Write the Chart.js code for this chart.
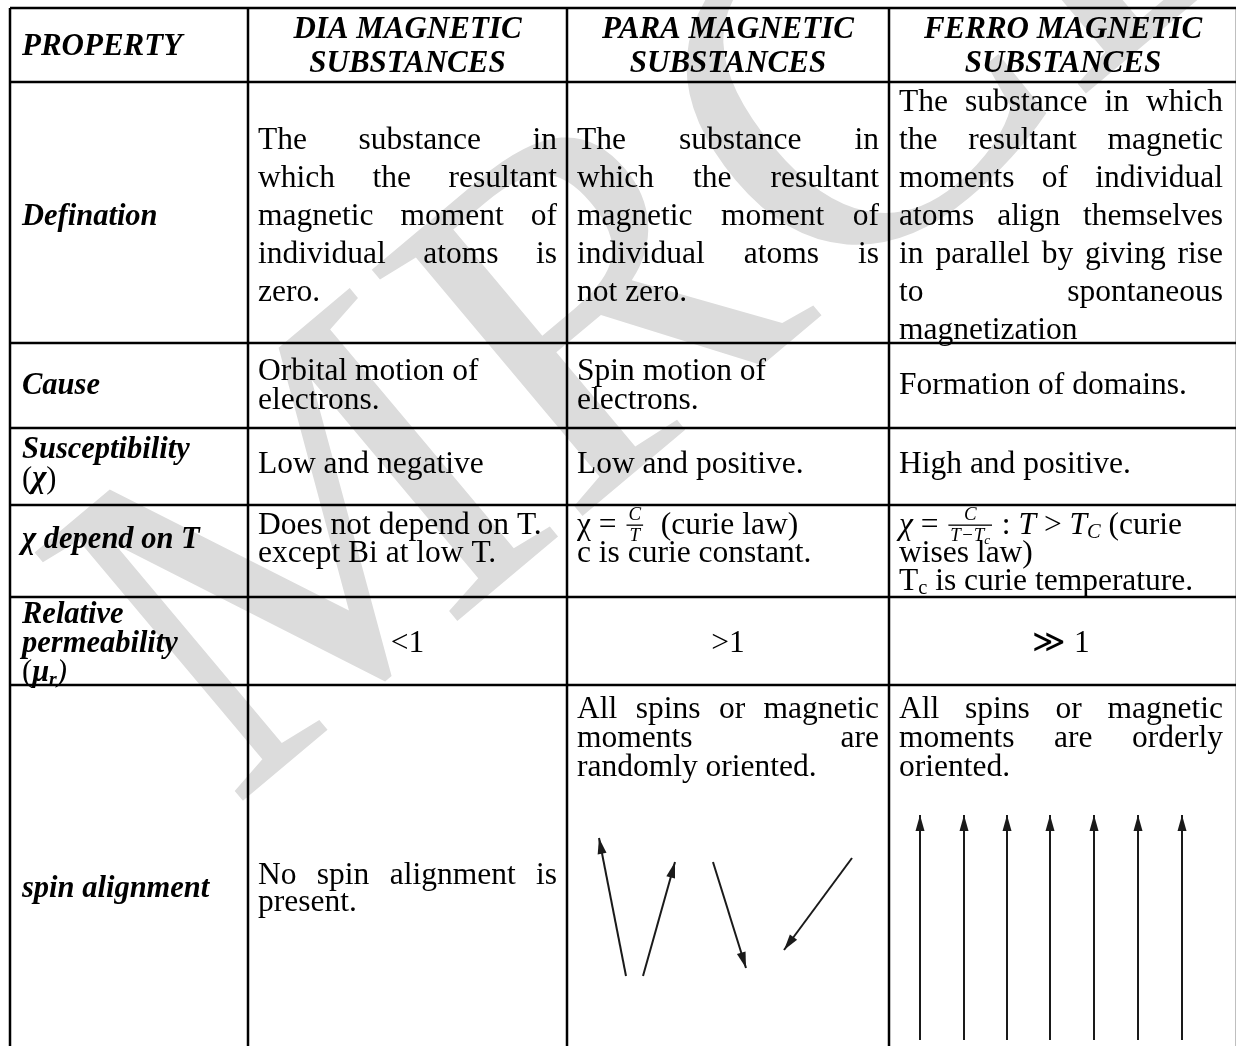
<!DOCTYPE html>
<html>
<head>
<meta charset="utf-8">
<script src="https://cdn.jsdelivr.net/npm/chart.js@4.4.0/dist/chart.umd.min.js"></script>
<style>
  html, body { margin: 0; padding: 0; background: #fff; }
  #wrap { width: 1236px; height: 1046px; }
</style>
</head>
<body>
<div id="wrap"><canvas id="tableChart"></canvas></div>
<script>
// table content
const headers = [
    ['PROPERTY'],
    ['DIA MAGNETIC', 'SUBSTANCES'],
    ['PARA MAGNETIC', 'SUBSTANCES'],
    ['FERRO MAGNETIC', 'SUBSTANCES']
];
const properties = [
    ['Defination'],
    ['Cause'],
    ['Susceptibility', '[r:(][bi:χ][r:)]'],
    ['χ depend on T'],
    ['Relative', 'permeability', '[r:(]μ[sbi:r][i:)]'],
    ['spin alignment']
];
const diaMagnetic = [
    ['The substance in', 'which the resultant', 'magnetic moment of', 'individual atoms is', 'zero.'],
    ['Orbital motion of', 'electrons.'],
    ['Low and negative'],
    ['Does not depend on T.', 'except Bi at low T.'],
    ['<1'],
    ['No spin alignment is', 'present.']
];
const paraMagnetic = [
    ['The substance in', 'which the resultant', 'magnetic moment of', 'individual atoms is', 'not zero.'],
    ['Spin motion of', 'electrons.'],
    ['Low and positive.'],
    ['χ = [f:C|T]  (curie law)', 'c is curie constant.'],
    ['>1'],
    ['All spins or magnetic', 'moments are', 'randomly oriented.']
];
const ferroMagnetic = [
    ['The substance in which', 'the resultant magnetic', 'moments of individual', 'atoms align themselves', 'in parallel by giving rise', 'to spontaneous', 'magnetization'],
    ['Formation of domains.'],
    ['High and positive.'],
    ['[i:χ] = [f:C|T−T_c] : [i:T] > [i:T][si:C] (curie', 'wises law)', 'T[s:c] is curie temperature.'],
    ['≫ 1'],
    ['All spins or magnetic', 'moments are orderly', 'oriented.']
];

// spin arrows (tail -> head), in table units
const paraArrowTail = [[626, 976], [643, 976], [713, 862], [852, 858]];
const paraArrowHead = [[599, 838], [675, 862], [746, 968], [784, 950]];
const ferroArrowX = [920, 964, 1007, 1050, 1094, 1138, 1182];
const ferroArrowTop = 815;
const ferroArrowBottom = 1040;

// grid layout
const colEdges = [10, 248, 567, 889, 1237];
const rowEdges = [8, 82, 343, 428, 505, 597, 685, 1100];
const rowStyle = [
    { lh: 34, mid: 47 },
    { lh: 38, mid: 217, justify: true },
    { lh: 29, mid: 386 },
    { lh: 29, mid: 465 },
    { lh: 28, mid: 540, topCols: [1, 2, 3], top: 526 },
    { lh: 29, mid: 644 },
    { lh: 27, mid: 889, justify: true, topCols: [2, 3], top: 710, topLh: 29 }
];

const FONT = '"Liberation Serif", "Times New Roman", serif';
const BODY = 31.5;
const HEAD = 31;
const LABEL = 30.5;

function fontOf(style, size) {
    const map = { r: '', i: 'italic ', b: 'bold ', bi: 'italic bold ' };
    return (map[style] || '') + size + 'px ' + FONT;
}

function parseLine(line, base) {
    const segs = [];
    const re = /\[(\w+):([^\]]*)\]/g;
    let last = 0, m;
    while ((m = re.exec(line))) {
        if (m.index > last) segs.push({ st: base, t: line.slice(last, m.index) });
        segs.push({ st: m[1], t: m[2] });
        last = re.lastIndex;
    }
    if (last < line.length) segs.push({ st: base, t: line.slice(last) });
    return segs;
}

// small italic text for fractions, "_x" makes a subscript
function miniWidth(ctx, t, size) {
    const p = t.split('_');
    ctx.font = fontOf('i', size);
    let w = ctx.measureText(p[0]).width;
    if (p[1]) { ctx.font = fontOf('i', size * 0.7); w += ctx.measureText(p[1]).width; }
    return w;
}
function drawMini(ctx, t, x, y, size) {
    const p = t.split('_');
    ctx.font = fontOf('i', size);
    ctx.fillText(p[0], x, y);
    if (p[1]) {
        const w = ctx.measureText(p[0]).width;
        ctx.font = fontOf('i', size * 0.7);
        ctx.fillText(p[1], x + w, y + size * 0.22);
    }
}

function segWidth(ctx, s, size) {
    if (s.st === 'f') {
        const [n, d] = s.t.split('|');
        return Math.max(miniWidth(ctx, n, size * 0.6), miniWidth(ctx, d, size * 0.6)) + 8;
    }
    if (s.st[0] === 's') {
        ctx.font = fontOf(s.st.slice(1) || 'r', size * 0.65);
    } else {
        ctx.font = fontOf(s.st, size);
    }
    return ctx.measureText(s.t).width;
}

function drawSeg(ctx, s, x, y, size) {
    const w = segWidth(ctx, s, size);
    if (s.st === 'f') {
        const [n, d] = s.t.split('|');
        const fs = size * 0.6;
        const nw = miniWidth(ctx, n, fs), dw = miniWidth(ctx, d, fs);
        drawMini(ctx, n, x + (w - nw) / 2, y - size * 0.34, fs);
        drawMini(ctx, d, x + (w - dw) / 2, y + size * 0.32, fs);
        ctx.fillRect(x + 2, y - 1.5, w - 4, 1.3);
        return w;
    }
    if (s.st[0] === 's') {
        ctx.font = fontOf(s.st.slice(1) || 'r', size * 0.65);
        ctx.fillText(s.t, x, y + size * 0.22);
        return w;
    }
    ctx.font = fontOf(s.st, size);
    ctx.fillText(s.t, x, y);
    return w;
}

function drawLine(ctx, line, base, size, x0, x1, y, align, justify) {
    if (justify && line.indexOf('[') < 0) {
        const words = line.split(' ');
        ctx.font = fontOf(base, size);
        const ws = words.map(w => ctx.measureText(w).width);
        const total = ws.reduce((a, b) => a + b, 0);
        const gap = (x1 - x0 - total) / (words.length - 1);
        let x = x0;
        words.forEach((w, i) => { ctx.fillText(w, x, y); x += ws[i] + gap; });
        return;
    }
    const segs = parseLine(line, base);
    const total = segs.reduce((a, s) => a + segWidth(ctx, s, size), 0);
    let x = align === 'center' ? (x0 + x1 - total) / 2 : x0;
    segs.forEach(s => { x += drawSeg(ctx, s, x, y, size); });
}

const tablePlugin = {
    id: 'tablePlugin',
    beforeDatasetsDraw(chart) {
        const { ctx, scales: { x, y } } = chart;
        ctx.save();

        // watermark
        ctx.save();
        ctx.translate(x.getPixelForValue(232), y.getPixelForValue(810));
        ctx.rotate(-40 * Math.PI / 180);
        ctx.font = '495px ' + FONT;
        ctx.fillStyle = '#dcdcdc';
        ctx.textBaseline = 'alphabetic';
        ctx.fillText('MRCET', 0, 0);
        ctx.restore();

        // grid
        ctx.strokeStyle = '#000';
        ctx.lineWidth = 2.5;
        ctx.beginPath();
        const top = y.getPixelForValue(rowEdges[0]);
        const bottom = y.getPixelForValue(rowEdges[rowEdges.length - 1]);
        const left = x.getPixelForValue(colEdges[0]);
        const right = x.getPixelForValue(colEdges[colEdges.length - 1]);
        colEdges.forEach(c => {
            const px = x.getPixelForValue(c);
            ctx.moveTo(px, top); ctx.lineTo(px, bottom);
        });
        rowEdges.forEach(r => {
            const py = y.getPixelForValue(r);
            ctx.moveTo(left, py); ctx.lineTo(right, py);
        });
        ctx.stroke();

        // text
        ctx.fillStyle = '#000';
        ctx.textBaseline = 'middle';
        const columns = [properties, diaMagnetic, paraMagnetic, ferroMagnetic];
        const pad = 10;

        headers.forEach((lines, c) => {
            const st = rowStyle[0];
            lines.forEach((ln, i) => {
                const yy = y.getPixelForValue(st.mid + (i - (lines.length - 1) / 2) * st.lh);
                const x0 = x.getPixelForValue(colEdges[c] + (c === 0 ? 12 : pad));
                const x1 = x.getPixelForValue(colEdges[c + 1] - pad);
                drawLine(ctx, ln, 'bi', HEAD, x0, x1, yy, c === 0 ? 'left' : 'center', false);
            });
        });

        columns.forEach((col, c) => {
            col.forEach((lines, r) => {
                const st = rowStyle[r + 1];
                let firstY, lh = st.lh;
                if (st.topCols && st.topCols.includes(c)) {
                    firstY = st.top;
                    lh = st.topLh || st.lh;
                } else {
                    firstY = st.mid - (lines.length - 1) / 2 * lh;
                }
                const base = c === 0 ? 'bi' : 'r';
                const size = c === 0 ? LABEL : BODY;
                const align = (r === 4 && c > 0) ? 'center' : 'left';
                const x0 = x.getPixelForValue(colEdges[c] + (c === 0 ? 12 : pad));
                const x1 = x.getPixelForValue(colEdges[c + 1] - (c === 3 ? 14 : pad));
                lines.forEach((ln, i) => {
                    const yy = y.getPixelForValue(firstY + i * lh);
                    const just = st.justify && c > 0 && i < lines.length - 1;
                    drawLine(ctx, ln, base, size, x0, x1, yy, align, just);
                });
            });
        });
        ctx.restore();
    },
    afterDatasetsDraw(chart) {
        const { ctx } = chart;
        ctx.save();
        ctx.fillStyle = '#1a1a1a';
        chart.data.datasets.forEach((ds, i) => {
            const pts = chart.getDatasetMeta(i).data;
            const a = pts[0], b = pts[1];
            const ang = Math.atan2(b.y - a.y, b.x - a.x);
            const len = 16, half = 4.5;
            ctx.beginPath();
            ctx.moveTo(b.x, b.y);
            ctx.lineTo(b.x - len * Math.cos(ang) + half * Math.sin(ang), b.y - len * Math.sin(ang) - half * Math.cos(ang));
            ctx.lineTo(b.x - len * Math.cos(ang) - half * Math.sin(ang), b.y - len * Math.sin(ang) + half * Math.cos(ang));
            ctx.closePath();
            ctx.fill();
        });
        ctx.restore();
    }
};

const arrowSets = [];
paraArrowTail.forEach((t, i) => {
    arrowSets.push({ data: [{ x: t[0], y: t[1] }, { x: paraArrowHead[i][0], y: paraArrowHead[i][1] }] });
});
ferroArrowX.forEach(ax => {
    arrowSets.push({ data: [{ x: ax, y: ferroArrowBottom }, { x: ax, y: ferroArrowTop }] });
});

new Chart(document.getElementById('tableChart'), {
    type: 'scatter',
    data: {
        datasets: arrowSets.map(s => ({
            data: s.data,
            showLine: true,
            borderColor: '#1a1a1a',
            borderWidth: 2,
            pointRadius: 0,
            clip: false
        }))
    },
    options: {
        responsive: true,
        maintainAspectRatio: false,
        animation: false,
        devicePixelRatio: 1,
        layout: { padding: 0 },
        plugins: { legend: { display: false }, tooltip: { enabled: false } },
        scales: {
            x: { type: 'linear', min: 0, max: 1236, display: false },
            y: { type: 'linear', min: 0, max: 1046, reverse: true, display: false }
        }
    },
    plugins: [tablePlugin]
});
</script>
</body>
</html>
